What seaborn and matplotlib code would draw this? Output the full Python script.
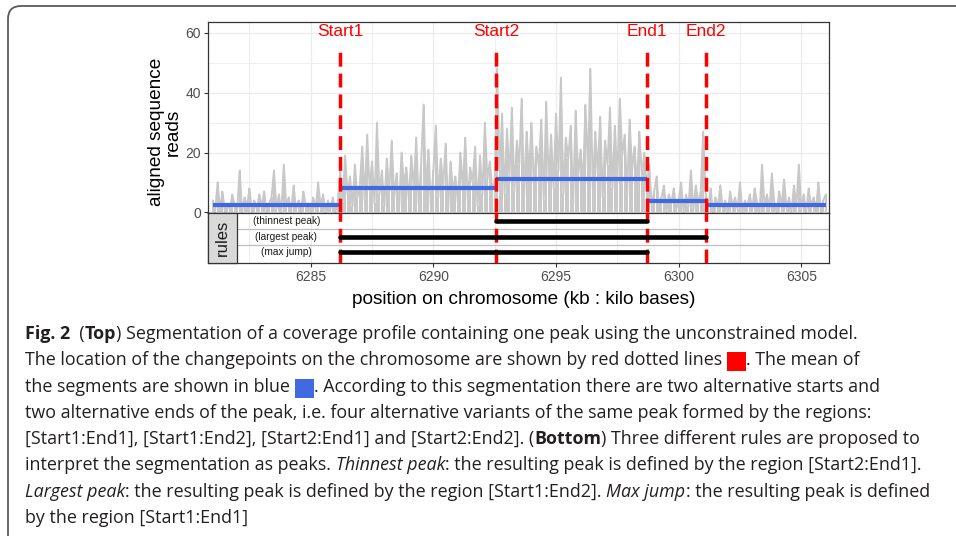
import numpy as np
import pandas as pd
import matplotlib
# Set backend to 'Agg' - no display in the sandbox
matplotlib.use('Agg')
import matplotlib.pyplot as plt
import seaborn as sns
from matplotlib import font_manager
from matplotlib.patches import Rectangle, FancyBboxPatch
from matplotlib.transforms import IdentityTransform

# --- DATA ---
# coverage profile, one value every 0.1 kb from 6281.0 kb
coverage_start = 6281.0
coverage_step = 0.1
coverage = [
    # segment 1 (6281.0 - 6286.1)
    4, 0, 10, 1, 7, 0, 3, 1, 6, 2,
    1, 14, 0, 5, 2, 8, 0, 4, 1, 6,
    2, 7, 0, 3, 5, 14, 1, 6, 0, 16,
    2, 5, 0, 9, 1, 4, 0, 7, 2, 3,
    0, 5, 1, 10, 2, 6, 0, 4, 1, 5,
    0, 3,
    # segment 2 (6286.2 - 6292.4)
    14, 3, 19, 6, 12, 2, 16, 5,
    9, 22, 4, 26, 8, 17, 3, 30, 6, 14,
    2, 18, 7, 24, 5, 13, 1, 20, 9, 15,
    4, 19, 8, 25, 3, 16, 36, 6, 21, 2,
    14, 29, 5, 18, 9, 23, 1, 17, 7, 12,
    3, 20, 8, 25, 4, 15, 10, 22, 2, 19,
    6, 30, 11, 17, 8,
    # segment 3 (6292.5 - 6298.6)
    10, 48, 14, 33, 6,
    28, 12, 35, 7, 24, 16, 38, 5, 27, 13,
    30, 9, 22, 15, 31, 4, 37, 11, 26, 8,
    33, 14, 45, 6, 25, 18, 29, 3, 34, 12,
    21, 9, 36, 15, 48, 7, 27, 13, 32, 5,
    24, 16, 35, 8, 29, 11, 38, 19, 26, 6,
    31, 14, 22, 9, 27, 12, 20,
    # segment 4 (6298.7 - 6301.0)
    8, 16, 2,
    7, 12, 1, 5, 9, 0, 6, 3, 8, 1,
    4, 10, 0, 6, 2, 14, 1, 9, 3, 7,
    27,
    # segment 5 (6301.1 - 6306.0)
    6, 1, 8, 0, 5, 2, 9, 1, 4,
    0, 7, 2, 5, 1, 10, 0, 4, 2, 6,
    1, 8, 3, 0, 16, 2, 6, 1, 13, 3,
    0, 7, 2, 11, 1, 5, 0, 9, 2, 16,
    1, 6, 0, 8, 2, 5, 1, 10, 0, 4,
    6,
]
coverage_end = 6306.0

changepoints = [6286.2, 6292.55, 6298.7, 6301.1]
changepoint_labels = ['Start1', 'Start2', 'End1', 'End2']
segment_means = [2.6, 8.2, 11.1, 3.7, 2.4]

rule_names = ['(thinnest peak)', '(largest peak)', '(max jump)']
rule_rows = [3, 2, 1]
rule_starts = [6292.55, 6286.2, 6286.2]
rule_ends = [6298.7, 6301.1, 6298.7]

x_ticks = [6285, 6290, 6295, 6300, 6305]
x_minor = [6282.5, 6287.5, 6292.5, 6297.5, 6302.5]
y_ticks = [0, 20, 40, 60]
y_minor = [10, 30, 50]

# caption, line by line: (text, style)
caption_lines = [
    [('Fig. 2', 'bold'), ('  (', 'normal'), ('Top', 'bold'),
     (') Segmentation of a coverage profile containing one peak using the unconstrained model.', 'normal')],
    [('The location of the changepoints on the chromosome are shown by red dotted lines ', 'normal'),
     ('#FF0000', 'box'), ('. The mean of', 'normal')],
    [('the segments are shown in blue ', 'normal'), ('#4169E1', 'box'),
     ('. According to this segmentation there are two alternative starts and', 'normal')],
    [('two alternative ends of the peak, i.e. four alternative variants of the same peak formed by the regions:', 'normal')],
    [('[Start1:End1], [Start1:End2], [Start2:End1] and [Start2:End2]. (', 'normal'), ('Bottom', 'bold'),
     (') Three different rules are proposed to', 'normal')],
    [('interpret the segmentation as peaks. ', 'normal'), ('Thinnest peak', 'italic'),
     (': the resulting peak is defined by the region [Start2:End1].', 'normal')],
    [('Largest peak', 'italic'), (': the resulting peak is defined by the region [Start1:End2]. ', 'normal'),
     ('Max jump', 'italic'), (': the resulting peak is defined', 'normal')],
    [('by the region [Start1:End1]', 'normal')],
]
# right edge of each caption line in the reference (px), used to size the font
caption_right = [892, 883, 898, 890, 925, 938, 945, 266]

# --- STYLE ---
W, H = 956, 536
sns.set_style('white')
available = {f.name for f in font_manager.fontManager.ttflist}
plot_font = 'Liberation Sans' if 'Liberation Sans' in available else 'DejaVu Sans'
caption_font = next((f for f in ['Open Sans', 'Lato', 'Noto Sans'] if f in available), 'DejaVu Sans')
plt.rcParams['font.family'] = [plot_font, 'DejaVu Sans']

GRID = '#EBEBEB'
BORDER = '#333333'
TICK_TXT = '#4D4D4D'


def fx(x):
    return x / W


def fy(y):
    return 1 - y / H


fig = plt.figure(figsize=(W / 100, H / 100), dpi=100)

# top panel: coverage + segment means
ax = fig.add_axes([fx(208), fy(213), fx(829) - fx(208), fy(22) - fy(213)])
# bottom panel: rules
axb = fig.add_axes([fx(208), fy(263), fx(829) - fx(208), fy(213) - fy(263)])

xlim = (6280.81, 6306.13)

positions = coverage_start + coverage_step * np.arange(len(coverage))
cov_df = pd.DataFrame({'pos': positions, 'reads': coverage})
ax.vlines(cov_df['pos'], 0, cov_df['reads'], color='#C8C8C8', linewidth=1.4, zorder=2)
sns.lineplot(data=cov_df, x='pos', y='reads', ax=ax, color='#C8C8C8', linewidth=1.4, zorder=2)

bounds = [coverage_start] + changepoints + [coverage_end]
ax.hlines(segment_means, bounds[:-1], bounds[1:], color='#4169E1', linewidth=3.0, zorder=3)

for cp, lab in zip(changepoints, changepoint_labels):
    ax.plot([cp, cp], [0, 55], color='#FF0000', linewidth=2.5, dashes=(4, 2), zorder=4)
    ax.text(cp, 60.5, lab, color='#FF0000', fontsize=12.5, ha='center', va='center')
    axb.plot([cp, cp], [0.32, 3.51], color='#FF0000', linewidth=2.5, dashes=(4, 2), zorder=4)

ax.set_xlim(xlim)
ax.set_ylim(-0.2, 63.6)
ax.set_xticks(x_ticks)
ax.set_xticks(x_minor, minor=True)
ax.set_yticks(y_ticks)
ax.set_yticks(y_minor, minor=True)
ax.grid(which='major', color=GRID, linewidth=0.9, zorder=0)
ax.grid(which='minor', color=GRID, linewidth=0.6, zorder=0)
ax.set_axisbelow(True)
ax.tick_params(axis='x', which='both', length=0, labelbottom=False)
ax.tick_params(axis='y', which='major', length=3, width=0.8, color=BORDER,
               labelsize=10, labelcolor=TICK_TXT, pad=2, left=True)
ax.tick_params(axis='y', which='minor', length=0)
ax.set_xlabel('')
ax.set_ylabel('')
for s in ax.spines.values():
    s.set_color(BORDER)
    s.set_linewidth(0.9)

# rules panel
strip_w = 29 / 621
axb.set_xlim(xlim)
axb.set_ylim(0.32, 3.51)
axb.set_xticks(x_ticks)
axb.set_xticks(x_minor, minor=True)
axb.set_yticks([])
axb.grid(axis='x', which='major', color=GRID, linewidth=0.9, zorder=0)
axb.grid(axis='x', which='minor', color=GRID, linewidth=0.6, zorder=0)
axb.set_axisbelow(True)
for y in [1.5, 2.5]:
    axb.axhline(y, xmin=strip_w, xmax=1, color='#BEBEBE', linewidth=0.9, zorder=1)
axb.hlines(rule_rows, rule_starts, rule_ends, color='black', linewidth=3.3,
           capstyle='round', zorder=5)
for name, row in zip(rule_names, rule_rows):
    axb.text(6284.0, row, name, fontsize=7.3, ha='center', va='center', color='#1A1A1A', zorder=6)
axb.add_patch(Rectangle((0, 0), strip_w, 1, transform=axb.transAxes, facecolor='#D9D9D9',
                        edgecolor=BORDER, linewidth=0.9, zorder=7, clip_on=False))
axb.text(strip_w / 2, 0.5, 'rules', transform=axb.transAxes, rotation=90, fontsize=12,
         ha='center', va='center', color='#1A1A1A', zorder=8)
axb.tick_params(axis='x', which='major', length=3, width=0.8, color=BORDER,
                labelsize=10, labelcolor=TICK_TXT, pad=2, bottom=True)
axb.tick_params(axis='x', which='minor', length=0)
for s in axb.spines.values():
    s.set_color(BORDER)
    s.set_linewidth(0.9)

# axis titles
fig.text(fx(165), fy(132), 'aligned sequence\nreads', rotation=90, fontsize=13.7,
         ha='center', va='center', linespacing=1.0, color='black')
fig.text(fx(524), fy(300), 'position on chromosome (kb : kilo bases)', fontsize=13.7,
         ha='center', va='center', color='black')

# outer rounded frame
frame = FancyBboxPatch((8, -30), 1000, H - 6 + 30, boxstyle='round,pad=0,rounding_size=13',
                       transform=IdentityTransform(), facecolor='none', edgecolor='#5A5A5A',
                       linewidth=1.3)
fig.add_artist(frame)

# --- CAPTION ---
renderer = fig.canvas.get_renderer()
CAP_COLOR = '#231F20'


def seg_props(style, size):
    props = dict(fontsize=size, family=[caption_font, 'DejaVu Sans'], color=CAP_COLOR)
    if style == 'bold':
        props['weight'] = 'bold'
    if style == 'italic':
        props['style'] = 'italic'
    return props


def text_width(s, props):
    # measure with guard characters so leading/trailing spaces are counted
    t1 = fig.text(0, 0, '|' + s + '|', **props)
    t2 = fig.text(0, 0, '||', **props)
    w = t1.get_window_extent(renderer).width - t2.get_window_extent(renderer).width
    t1.remove()
    t2.remove()
    return w


def draw_line(segments, x0, base, size, draw=True):
    x = x0
    for content, style in segments:
        if style == 'box':
            if draw:
                fig.add_artist(Rectangle((x, H - base - 6), 19, 19, transform=IdentityTransform(),
                                         facecolor=content, edgecolor='none'))
            x += 19
            continue
        props = seg_props(style, size)
        if draw:
            fig.text(fx(x), fy(base), content, ha='left', va='baseline', **props)
        x += text_width(content, props)
    return x - x0


# fit the font size so that no caption line runs past its right edge in the reference
base_size = 14
cap_size = min(base_size * (right - 25) / draw_line(line, 25, 0, base_size, draw=False)
               for line, right in zip(caption_lines, caption_right))

for i, line in enumerate(caption_lines):
    draw_line(line, 25, 339 + i * 26.3, cap_size)

fig.savefig('out.png', dpi=100, facecolor='white')
plt.close(fig)
